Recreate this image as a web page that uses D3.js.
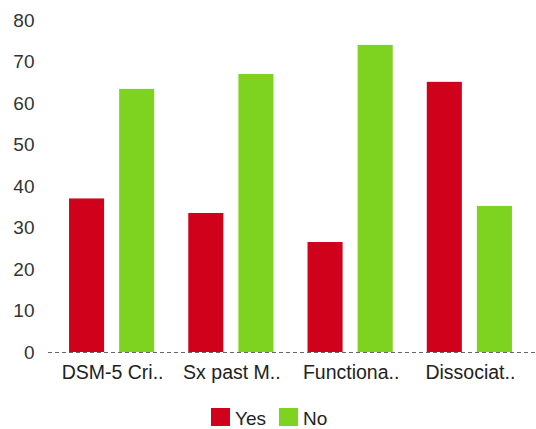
<!DOCTYPE html>
<html>
<head>
<meta charset="utf-8">
<script src="https://cdn.jsdelivr.net/npm/d3@7"></script>
<style>
  html, body { margin: 0; padding: 0; background: #fff; }
  svg { display: block; font-family: "Liberation Sans", Arial, sans-serif; }
</style>
</head>
<body>
<svg id="chart" width="536" height="429"></svg>
<script>
const categories = ["DSM-5 Cri..", "Sx past M..", "Functiona..", "Dissociat.."];
const seriesNames = ["Yes", "No"];
const yesValues = [37, 33.5, 26.5, 65.1];
const noValues = [63.4, 67, 74, 35.2];
const yTicks = [0, 10, 20, 30, 40, 50, 60, 70, 80];
const colors = ["#d0021b", "#7ed321"];

const svg = d3.select("#chart");
const x0 = d3.scaleBand().domain(categories).range([52, 529]).paddingInner(0).paddingOuter(0);
const x1 = d3.scaleBand().domain(seriesNames).range([0, x0.bandwidth()]).paddingInner(0.3).paddingOuter(0.34);
const y = d3.scaleLinear().domain([0, 80]).range([352, 20]);
const color = d3.scaleOrdinal().domain(seriesNames).range(colors);

const rows = categories.map((c, i) => ({ cat: c, vals: [
  { key: "Yes", value: yesValues[i] },
  { key: "No", value: noValues[i] }
]}));

// y tick labels
const yAxis = d3.axisLeft(y).tickValues(yTicks).tickSize(0).tickPadding(0);
const gy = svg.append("g").attr("transform", "translate(34.5,0)").call(yAxis);
gy.select(".domain").remove();
gy.selectAll("text").attr("font-size", 19).attr("fill", "#333")
  .attr("font-family", "'Liberation Sans', Arial, sans-serif");

// bars
const groups = svg.append("g").selectAll("g").data(rows).join("g")
  .attr("transform", d => `translate(${x0(d.cat)},0)`);
groups.selectAll("rect").data(d => d.vals).join("rect")
  .attr("x", d => x1(d.key))
  .attr("y", d => y(d.value))
  .attr("width", x1.bandwidth())
  .attr("height", d => y(0) - y(d.value))
  .attr("fill", d => color(d.key));

// baseline dashed
svg.append("line")
  .attr("x1", 48).attr("x2", 536)
  .attr("y1", y(0) + 0.5).attr("y2", y(0) + 0.5)
  .attr("stroke", "#666").attr("stroke-width", 1)
  .attr("stroke-dasharray", "4,3");

// x labels
const xAxis = d3.axisBottom(x0).tickSize(0).tickPadding(0);
const gx = svg.append("g").attr("transform", "translate(1,365)").call(xAxis);
gx.select(".domain").remove();
gx.selectAll("text").attr("font-size", 19.5).attr("fill", "#222")
  .attr("font-family", "'Liberation Sans', Arial, sans-serif");

// legend
const legend = svg.append("g");
const legendItems = [
  { key: "Yes", x: 211 },
  { key: "No", x: 279 }
];
legendItems.forEach(it => {
  legend.append("rect").attr("x", it.x).attr("y", 408).attr("width", 19).attr("height", 18)
    .attr("fill", color(it.key));
  legend.append("text").attr("x", it.x + 24).attr("y", 425).attr("font-size", 19)
    .attr("font-family", "'Liberation Sans', Arial, sans-serif")
    .attr("fill", "#222").text(it.key);
});
</script>
</body>
</html>
